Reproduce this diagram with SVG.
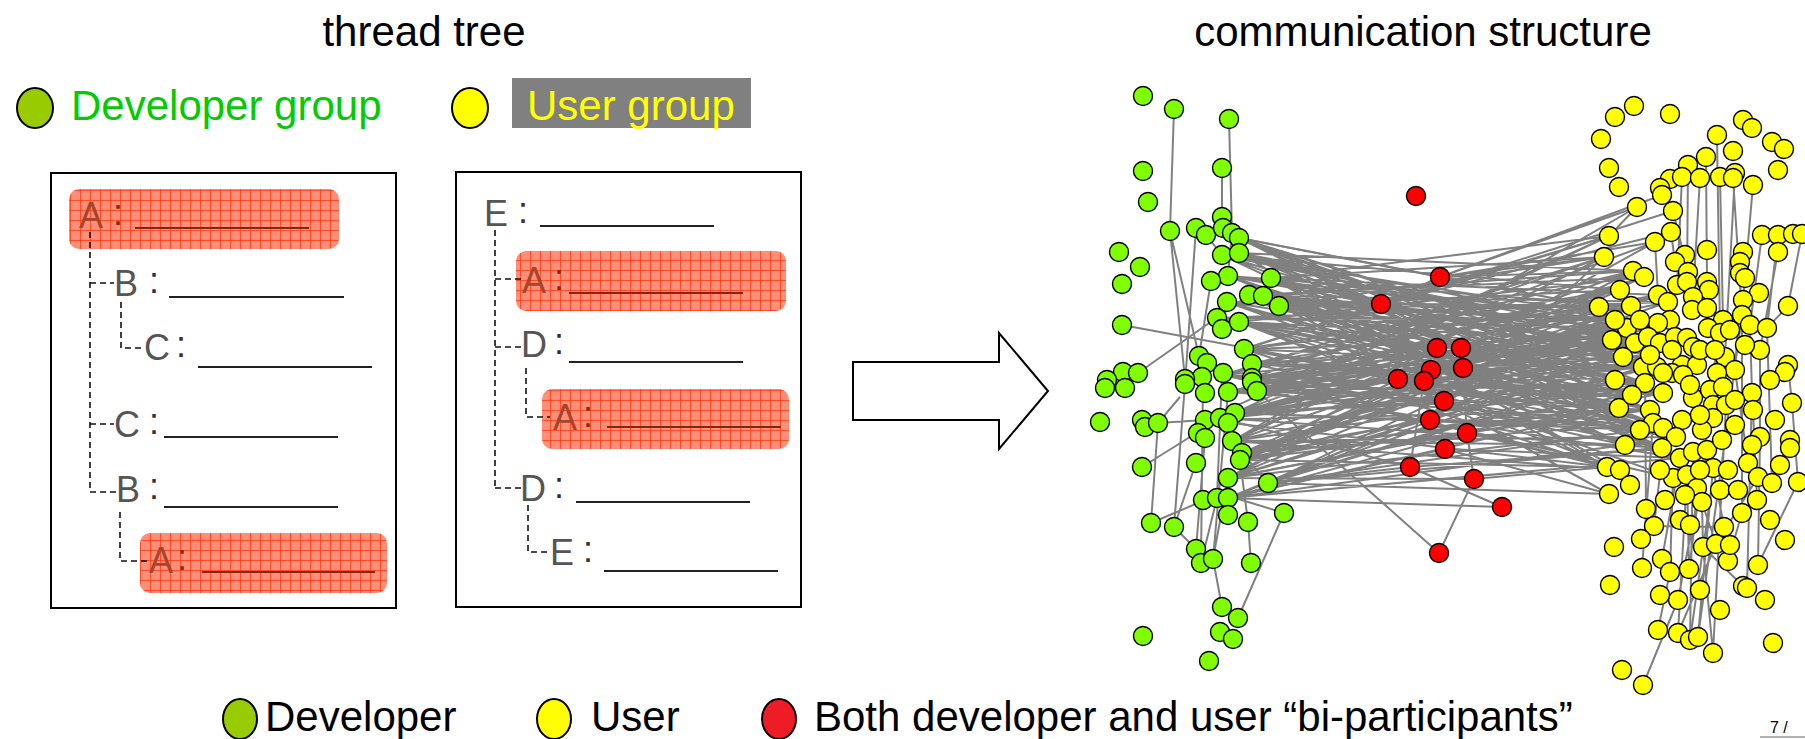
<svg xmlns="http://www.w3.org/2000/svg" width="1805" height="739" viewBox="0 0 1805 739">
  <style>
    text { font-family: "Liberation Sans", Arial, sans-serif; }
    .title { font-size: 42px; fill: #000; text-anchor: middle; }
    .leg { font-size: 42px; fill: #000; }
    .msg { font-size: 36px; fill: #555555; }
    .col { font-size: 36px; fill: #333333; }
    .hot .msg { fill: #a8442c; }
    .hot .col { fill: #8a2a14; }
    .rule { stroke: #222; stroke-width: 2; fill: none; }
    .hot .rule { stroke: #8a2410; }
    .tie { stroke: #111; stroke-width: 1.6; fill: none; stroke-dasharray: 6 4; }
    .frame { fill: #fff; stroke: #000; stroke-width: 2; }
    .mark { fill: url(#grid); }
    .e { stroke: #808080; stroke-width: 2; fill: none; }
    .dev circle { fill: #80ff00; stroke: #000; stroke-width: 1.4; }
    .usr circle { fill: #ffff00; stroke: #000; stroke-width: 1.4; }
    .bi circle { fill: #ff0000; stroke: #000; stroke-width: 1.4; }
    .key { stroke: #000; stroke-width: 2; }
  </style>
  <defs>
    <pattern id="grid" width="10" height="10" patternUnits="userSpaceOnUse">
      <rect width="10" height="10" fill="#ff8f78"/>
      <path d="M0 0.5H10M0.5 0V10" stroke="#ff3c14" stroke-width="1" stroke-opacity="0.8"/>
    </pattern>
  </defs>

  <rect width="1805" height="739" fill="#fff"/>

  <!-- headings -->
  <text id="title-thread" class="title" x="424" y="46">thread tree</text>
  <text id="title-comm" class="title" x="1423" y="46">communication structure</text>

  <!-- group legend -->
  <g id="legend-dev-group">
    <ellipse class="key" cx="35" cy="108" rx="18" ry="20" fill="#99cc00"/>
    <text x="71" y="120" style="font-size:42px;fill:#00cc00">Developer group</text>
  </g>
  <g id="legend-user-group">
    <ellipse class="key" cx="470" cy="108" rx="18" ry="20" fill="#ffff00"/>
    <rect x="512" y="78" width="239" height="50" fill="#808080"/>
    <text x="527" y="120" style="font-size:42px;fill:#ffff00">User group</text>
  </g>

  <!-- thread 1 -->
  <g id="thread-1">
    <rect class="frame" x="51" y="173" width="345" height="435"/>
    <rect class="mark" x="69" y="189" width="270" height="60" rx="10"/>
    <rect class="mark" x="140" y="533" width="247" height="60" rx="10"/>
    <path class="tie" d="M90 232V492M90 283H114M90 424H114M90 492H116M121 302V348H144M120 512V561H147"/>
    <g class="hot"><text class="msg" x="79" y="228">A</text><text class="col" x="113" y="225">:</text><path class="rule" d="M135 228H309"/></g>
    <text class="msg" x="114" y="296">B</text><text class="col" x="149" y="293">:</text><path class="rule" d="M169 297H344"/>
    <text class="msg" x="144" y="360">C</text><text class="col" x="176" y="357">:</text><path class="rule" d="M198 367H372"/>
    <text class="msg" x="114" y="437">C</text><text class="col" x="149" y="434">:</text><path class="rule" d="M164 437H338"/>
    <text class="msg" x="116" y="502">B</text><text class="col" x="149" y="499">:</text><path class="rule" d="M164 507H338"/>
    <g class="hot"><text class="msg" x="149" y="573">A</text><text class="col" x="177" y="570">:</text><path class="rule" d="M202 572H375"/></g>
  </g>

  <!-- thread 2 -->
  <g id="thread-2">
    <rect class="frame" x="456" y="172" width="345" height="435"/>
    <rect class="mark" x="516" y="251" width="270" height="60" rx="10"/>
    <rect class="mark" x="542" y="389" width="247" height="60" rx="10"/>
    <path class="tie" d="M495 230V488M495 279H522M495 347H522M495 488H522M526 368V417H550M528 505V552H550"/>
    <text class="msg" x="484" y="226">E</text><text class="col" x="518" y="223">:</text><path class="rule" d="M540 226H714"/>
    <g class="hot"><text class="msg" x="522" y="293">A</text><text class="col" x="554" y="290">:</text><path class="rule" d="M569 293H743"/></g>
    <text class="msg" x="521" y="357">D</text><text class="col" x="554" y="354">:</text><path class="rule" d="M569 362H743"/>
    <g class="hot"><text class="msg" x="553" y="430">A</text><text class="col" x="583" y="427">:</text><path class="rule" d="M607 427H781"/></g>
    <text class="msg" x="520" y="501">D</text><text class="col" x="554" y="498">:</text><path class="rule" d="M576 502H750"/>
    <text class="msg" x="550" y="565">E</text><text class="col" x="583" y="562">:</text><path class="rule" d="M604 571H778"/>
  </g>

  <!-- block arrow -->
  <g id="arrow">
    <polygon points="853,362 999,362 999,333 1048,391 999,449 999,420 853,420" fill="#fff" stroke="#000" stroke-width="2"/>
  </g>

  <!-- network connectors -->
  <g id="connectors">
    <path class="e" d="M1239 238L1599 307M1239 238L1623 357M1239 238L1645 383M1239 238L1650 410M1239 238L1662 448M1239 238L1643 367
M1239 253L1627 328M1239 253L1657 367M1239 253L1619 408M1239 253L1663 428M1239 253L1607 467M1239 253L1633 271
M1222 255L1635 343M1222 255L1663 393M1222 255L1653 423M1222 255L1648 337M1222 255L1658 323
M1228 276L1631 306M1228 276L1660 343M1228 276L1650 410M1228 276L1676 437M1228 276L1680 458
M1271 278L1609 236M1271 278L1604 257M1271 278L1623 357M1271 278L1643 367M1271 278L1619 408M1271 278L1658 295
M1249 295L1644 277M1249 295L1648 337M1249 295L1645 383M1249 295L1653 423M1249 295L1662 448M1249 295L1609 494
M1263 296L1633 271M1263 296L1627 328M1263 296L1657 367M1263 296L1663 428M1263 296L1668 302
M1279 306L1604 257M1279 306L1599 307M1279 306L1635 343M1279 306L1663 393M1279 306L1607 467
M1227 302L1631 306M1227 302L1643 367M1227 302L1619 408M1227 302L1676 437M1227 302L1658 323
M1239 322L1644 277M1239 322L1623 357M1239 322L1660 343M1239 322L1650 410M1239 322L1680 458M1239 322L1673 478
M1217 318L1627 328M1217 318L1645 383M1217 318L1653 423M1217 318L1668 302
M1244 349L1609 236M1244 349L1599 307M1244 349L1648 337M1244 349L1657 367M1244 349L1663 428M1244 349L1607 467
M1252 364L1633 271M1252 364L1635 343M1252 364L1643 367M1252 364L1663 393M1252 364L1662 448M1252 364L1658 295
M1252 378L1604 257M1252 378L1631 306M1252 378L1660 343M1252 378L1619 408M1252 378L1676 437M1252 378L1658 323
M1257 391L1644 277M1257 391L1623 357M1257 391L1645 383M1257 391L1650 410M1257 391L1680 458M1257 391L1655 242
M1228 392L1599 307M1228 392L1648 337M1228 392L1657 367M1228 392L1653 423M1228 392L1668 302
M1235 413L1609 236M1235 413L1627 328M1235 413L1643 367M1235 413L1663 393M1235 413L1663 428M1235 413L1658 295
M1220 418L1633 271M1220 418L1635 343M1220 418L1660 343M1220 418L1662 448M1220 418L1658 323
M1232 441L1604 257M1232 441L1631 306M1232 441L1623 357M1232 441L1645 383M1232 441L1676 437M1232 441L1637 207
M1242 453L1644 277M1242 453L1648 337M1242 453L1619 408M1242 453L1653 423M1242 453L1668 302
M1240 460L1599 307M1240 460L1627 328M1240 460L1657 367M1240 460L1650 410M1240 460L1607 467M1240 460L1658 295
M1228 478L1633 271M1228 478L1660 343M1228 478L1663 393M1228 478L1663 428M1228 478L1655 242
M1268 483L1631 306M1268 483L1623 357M1268 483L1643 367M1268 483L1662 448M1268 483L1609 494
M1228 498L1635 343M1228 498L1645 383M1228 498L1619 408M1228 498L1680 458M1228 498L1658 323
M1223 375L1604 257M1223 375L1648 337M1223 375L1663 393M1223 375L1676 437M1223 375L1673 478
M1205 420L1609 236M1205 420L1660 343M1205 420L1650 410M1205 420L1607 467
M1240 460L1607 467M1268 483L1609 494
M1239 238L1615 380M1239 238L1640 430M1239 253L1612 340M1239 253L1632 395
M1222 255L1620 290M1222 255L1625 445M1228 276L1615 320M1228 276L1650 355
M1271 278L1640 320M1271 278L1620 470M1249 295L1612 340M1249 295L1632 395
M1263 296L1615 380M1263 296L1640 430M1279 306L1620 290M1279 306L1650 355
M1227 302L1625 445M1227 302L1640 320M1239 322L1612 340M1239 322L1620 470
M1217 318L1632 395M1217 318L1615 320M1244 349L1640 430M1244 349L1620 290
M1252 364L1615 380M1252 364L1625 445M1252 378L1650 355M1252 378L1620 470
M1257 391L1640 320M1257 391L1612 340M1228 392L1632 395M1228 392L1620 290
M1235 413L1615 320M1235 413L1640 430M1220 418L1650 355M1220 418L1615 380
M1232 441L1625 445M1232 441L1620 470M1242 453L1612 340M1242 453L1640 320
M1240 460L1632 395M1240 460L1620 290M1228 478L1615 320M1228 478L1650 355
M1268 483L1615 380M1268 483L1640 430M1228 498L1612 340M1228 498L1625 445
M1223 375L1620 290M1223 375L1632 395M1205 420L1615 380M1205 420L1640 320"/>
    <!-- links of the bi-participants -->
    <path class="e" d="M1381 304L1239 238M1381 304L1239 253M1381 304L1263 296M1381 304L1244 349M1381 304L1440 277M1381 304L1609 236M1381 304L1599 307M1381 304L1650 410M1381 304L1461 348M1381 304L1673 211M1381 304L1671 232
M1440 277L1637 207M1440 277L1655 242M1440 277L1633 271M1440 277L1239 238M1440 277L1604 257M1440 277L1662 195
M1437 348L1239 322M1437 348L1252 364M1437 348L1660 343M1437 348L1627 328M1437 348L1444 401M1437 348L1232 441
M1461 348L1249 295M1461 348L1257 391M1461 348L1644 277M1461 348L1645 383M1461 348L1623 357M1461 348L1467 433
M1431 370L1252 378M1431 370L1657 367M1431 370L1619 408M1431 370L1445 449
M1463 368L1279 306M1463 368L1648 337M1463 368L1662 448M1463 368L1430 420
M1398 379L1228 392M1398 379L1240 460M1398 379L1663 393M1398 379L1635 343
M1424 381L1244 349M1424 381L1643 367M1424 381L1663 428M1424 381L1410 467
M1444 401L1235 413M1444 401L1676 437M1444 401L1631 306
M1430 420L1242 453M1430 420L1653 423M1430 420L1604 257
M1467 433L1228 478M1467 433L1607 467M1467 433L1619 408M1467 433L1474 479
M1445 449L1228 498M1445 449L1680 458M1445 449L1609 494
M1410 467L1268 483M1410 467L1662 448M1410 467L1220 418
M1474 479L1228 478M1474 479L1607 467M1474 479L1439 553
M1502 507L1228 498M1502 507L1410 467
M1439 553L1257 391M1439 553L1474 479
M1122 325L1424 381M1138 373L1249 295"/>
    <!-- developer side links -->
    <path class="e" d="M1174 109L1170 231M1229 119L1232 233M1222 168L1222 217M1170 231L1185 379M1170 231L1199 356M1196 228L1185 384M1206 235L1222 255
M1105 388L1123 372M1158 423L1180 397M1158 423L1205 420M1142 467L1190 437M1151 523L1158 423M1151 523L1205 500M1174 527L1196 463M1174 527L1196 549
M1196 549L1205 438M1201 563L1217 498M1213 559L1222 607M1213 559L1228 478M1251 563L1248 522M1248 522L1240 460M1238 618L1284 513M1284 513L1232 497
M1185 384L1174 527M1203 379L1201 563M1228 392L1213 559M1222 375L1217 498M1268 483L1242 453M1211 281L1199 356M1232 233L1228 276"/>
    <!-- user side links -->
    <path class="e" d="M1717 135L1720 333M1706 157L1707 282M1700 178L1693 297M1720 177L1723 320M1735 173L1725 357M1753 185L1743 300M1688 165L1687 282M1682 177L1677 285
M1733 178L1742 315M1802 234L1788 306M1778 252L1760 350M1762 235L1750 325M1743 252L1735 370M1778 235L1767 328M1671 232L1675 262M1673 211L1688 272M1655 242L1658 295
M1750 325L1752 393M1760 350L1760 437M1788 365L1792 403M1788 306L1767 328M1798 482L1758 565M1792 403L1798 482M1735 370L1748 463M1725 357L1726 405M1720 333L1713 418
M1723 320L1702 430M1742 315L1742 513M1767 328L1772 483M1753 410L1757 500M1752 393L1747 588M1760 437L1758 565M1713 468L1724 527M1702 502L1703 547M1697 488L1716 544
M1687 475L1689 569M1673 478L1670 572M1663 448L1654 526M1654 526L1724 527M1703 547L1743 586M1658 630L1670 572M1643 685L1678 600M1678 600L1707 450M1678 633L1716 544
M1690 640L1710 500M1698 637L1713 468M1713 653L1703 547M1713 653L1726 405M1690 640L1693 452M1698 637L1742 315M1678 633L1687 475M1646 509L1645 383M1641 539L1654 526
M1662 559L1680 458M1642 568L1653 423M1728 561L1742 513M1716 544L1758 477M1689 569L1720 333M1609 236L1637 207"/>
  </g>

  <!-- developers -->
  <g id="developers" class="dev">
    <circle cx="1143" cy="96" r="9.5"/><circle cx="1174" cy="109" r="9.5"/><circle cx="1229" cy="119" r="9.5"/>
    <circle cx="1143" cy="171" r="9.5"/><circle cx="1148" cy="202" r="9.5"/><circle cx="1222" cy="168" r="9.5"/>
    <circle cx="1222" cy="217" r="9.5"/><circle cx="1170" cy="231" r="9.5"/><circle cx="1196" cy="228" r="9.5"/>
    <circle cx="1206" cy="235" r="9.5"/><circle cx="1223" cy="228" r="9.5"/><circle cx="1232" cy="233" r="9.5"/>
    <circle cx="1239" cy="238" r="9.5"/><circle cx="1119" cy="252" r="9.5"/><circle cx="1140" cy="267" r="9.5"/>
    <circle cx="1122" cy="284" r="9.5"/><circle cx="1222" cy="255" r="9.5"/><circle cx="1239" cy="253" r="9.5"/>
    <circle cx="1228" cy="276" r="9.5"/><circle cx="1211" cy="281" r="9.5"/><circle cx="1271" cy="278" r="9.5"/>
    <circle cx="1249" cy="295" r="9.5"/><circle cx="1263" cy="296" r="9.5"/><circle cx="1279" cy="306" r="9.5"/>
    <circle cx="1227" cy="302" r="9.5"/><circle cx="1217" cy="318" r="9.5"/><circle cx="1222" cy="329" r="9.5"/>
    <circle cx="1239" cy="322" r="9.5"/><circle cx="1122" cy="325" r="9.5"/><circle cx="1244" cy="349" r="9.5"/>
    <circle cx="1199" cy="356" r="9.5"/><circle cx="1207" cy="363" r="9.5"/><circle cx="1252" cy="364" r="9.5"/>
    <circle cx="1123" cy="372" r="9.5"/><circle cx="1138" cy="373" r="9.5"/><circle cx="1223" cy="373" r="9.5"/>
    <circle cx="1202" cy="377" r="9.5"/><circle cx="1185" cy="379" r="9.5"/><circle cx="1107" cy="380" r="9.5"/>
    <circle cx="1252" cy="378" r="9.5"/><circle cx="1105" cy="388" r="9.5"/><circle cx="1125" cy="388" r="9.5"/>
    <circle cx="1185" cy="384" r="9.5"/><circle cx="1205" cy="393" r="9.5"/><circle cx="1228" cy="392" r="9.5"/>
    <circle cx="1252" cy="382" r="9.5"/><circle cx="1257" cy="391" r="9.5"/><circle cx="1100" cy="422" r="9.5"/>
    <circle cx="1142" cy="420" r="9.5"/><circle cx="1145" cy="427" r="9.5"/><circle cx="1158" cy="423" r="9.5"/>
    <circle cx="1205" cy="420" r="9.5"/><circle cx="1220" cy="418" r="9.5"/><circle cx="1235" cy="413" r="9.5"/>
    <circle cx="1228" cy="423" r="9.5"/><circle cx="1198" cy="433" r="9.5"/><circle cx="1205" cy="438" r="9.5"/>
    <circle cx="1232" cy="441" r="9.5"/><circle cx="1242" cy="453" r="9.5"/><circle cx="1240" cy="460" r="9.5"/>
    <circle cx="1142" cy="467" r="9.5"/><circle cx="1196" cy="463" r="9.5"/><circle cx="1228" cy="478" r="9.5"/>
    <circle cx="1268" cy="483" r="9.5"/><circle cx="1203" cy="500" r="9.5"/><circle cx="1217" cy="498" r="9.5"/>
    <circle cx="1228" cy="498" r="9.5"/><circle cx="1284" cy="513" r="9.5"/><circle cx="1151" cy="523" r="9.5"/>
    <circle cx="1174" cy="527" r="9.5"/><circle cx="1228" cy="515" r="9.5"/><circle cx="1248" cy="522" r="9.5"/>
    <circle cx="1196" cy="549" r="9.5"/><circle cx="1201" cy="563" r="9.5"/><circle cx="1213" cy="559" r="9.5"/>
    <circle cx="1251" cy="563" r="9.5"/><circle cx="1222" cy="607" r="9.5"/><circle cx="1238" cy="618" r="9.5"/>
    <circle cx="1220" cy="632" r="9.5"/><circle cx="1233" cy="639" r="9.5"/><circle cx="1143" cy="636" r="9.5"/>
    <circle cx="1209" cy="661" r="9.5"/>
  </g>

  <!-- users -->
  <g id="users" class="usr">
    <circle cx="1615" cy="117" r="9.5"/><circle cx="1634" cy="106" r="9.5"/><circle cx="1670" cy="114" r="9.5"/>
    <circle cx="1601" cy="139" r="9.5"/><circle cx="1609" cy="168" r="9.5"/><circle cx="1619" cy="187" r="9.5"/>
    <circle cx="1743" cy="120" r="9.5"/><circle cx="1752" cy="128" r="9.5"/><circle cx="1772" cy="142" r="9.5"/>
    <circle cx="1784" cy="149" r="9.5"/><circle cx="1778" cy="170" r="9.5"/><circle cx="1717" cy="135" r="9.5"/>
    <circle cx="1733" cy="151" r="9.5"/><circle cx="1706" cy="157" r="9.5"/><circle cx="1688" cy="165" r="9.5"/>
    <circle cx="1670" cy="179" r="9.5"/><circle cx="1682" cy="177" r="9.5"/><circle cx="1700" cy="178" r="9.5"/>
    <circle cx="1720" cy="177" r="9.5"/><circle cx="1735" cy="173" r="9.5"/><circle cx="1733" cy="178" r="9.5"/>
    <circle cx="1753" cy="185" r="9.5"/><circle cx="1660" cy="188" r="9.5"/><circle cx="1662" cy="195" r="9.5"/>
    <circle cx="1637" cy="207" r="9.5"/><circle cx="1673" cy="211" r="9.5"/><circle cx="1671" cy="232" r="9.5"/>
    <circle cx="1609" cy="236" r="9.5"/><circle cx="1655" cy="242" r="9.5"/><circle cx="1604" cy="257" r="9.5"/>
    <circle cx="1762" cy="235" r="9.5"/><circle cx="1778" cy="235" r="9.5"/><circle cx="1793" cy="234" r="9.5"/>
    <circle cx="1802" cy="234" r="9.5"/><circle cx="1778" cy="252" r="9.5"/><circle cx="1743" cy="252" r="9.5"/>
    <circle cx="1740" cy="262" r="9.5"/><circle cx="1740" cy="273" r="9.5"/><circle cx="1745" cy="278" r="9.5"/>
    <circle cx="1707" cy="250" r="9.5"/><circle cx="1685" cy="255" r="9.5"/><circle cx="1675" cy="262" r="9.5"/>
    <circle cx="1688" cy="272" r="9.5"/><circle cx="1633" cy="271" r="9.5"/><circle cx="1644" cy="277" r="9.5"/>
    <circle cx="1707" cy="282" r="9.5"/><circle cx="1709" cy="290" r="9.5"/><circle cx="1658" cy="295" r="9.5"/>
    <circle cx="1677" cy="285" r="9.5"/><circle cx="1687" cy="282" r="9.5"/><circle cx="1693" cy="297" r="9.5"/>
    <circle cx="1668" cy="302" r="9.5"/><circle cx="1599" cy="307" r="9.5"/><circle cx="1631" cy="306" r="9.5"/>
    <circle cx="1759" cy="293" r="9.5"/><circle cx="1743" cy="300" r="9.5"/><circle cx="1742" cy="315" r="9.5"/>
    <circle cx="1788" cy="306" r="9.5"/><circle cx="1692" cy="310" r="9.5"/><circle cx="1707" cy="308" r="9.5"/>
    <circle cx="1670" cy="320" r="9.5"/><circle cx="1658" cy="323" r="9.5"/><circle cx="1723" cy="320" r="9.5"/>
    <circle cx="1708" cy="328" r="9.5"/><circle cx="1720" cy="333" r="9.5"/><circle cx="1627" cy="328" r="9.5"/>
    <circle cx="1635" cy="343" r="9.5"/><circle cx="1623" cy="357" r="9.5"/><circle cx="1648" cy="337" r="9.5"/>
    <circle cx="1660" cy="343" r="9.5"/><circle cx="1675" cy="337" r="9.5"/><circle cx="1687" cy="338" r="9.5"/>
    <circle cx="1693" cy="347" r="9.5"/><circle cx="1750" cy="325" r="9.5"/><circle cx="1767" cy="328" r="9.5"/>
    <circle cx="1760" cy="350" r="9.5"/><circle cx="1725" cy="357" r="9.5"/><circle cx="1735" cy="370" r="9.5"/>
    <circle cx="1788" cy="365" r="9.5"/><circle cx="1785" cy="372" r="9.5"/><circle cx="1643" cy="367" r="9.5"/>
    <circle cx="1657" cy="367" r="9.5"/><circle cx="1682" cy="365" r="9.5"/><circle cx="1697" cy="365" r="9.5"/>
    <circle cx="1672" cy="373" r="9.5"/><circle cx="1717" cy="373" r="9.5"/><circle cx="1619" cy="408" r="9.5"/>
    <circle cx="1645" cy="383" r="9.5"/><circle cx="1663" cy="393" r="9.5"/><circle cx="1663" cy="373" r="9.5"/>
    <circle cx="1683" cy="375" r="9.5"/><circle cx="1693" cy="398" r="9.5"/><circle cx="1710" cy="390" r="9.5"/>
    <circle cx="1723" cy="387" r="9.5"/><circle cx="1713" cy="405" r="9.5"/><circle cx="1726" cy="405" r="9.5"/>
    <circle cx="1713" cy="418" r="9.5"/><circle cx="1752" cy="393" r="9.5"/><circle cx="1753" cy="410" r="9.5"/>
    <circle cx="1792" cy="403" r="9.5"/><circle cx="1650" cy="410" r="9.5"/><circle cx="1653" cy="423" r="9.5"/>
    <circle cx="1663" cy="428" r="9.5"/><circle cx="1682" cy="420" r="9.5"/><circle cx="1676" cy="437" r="9.5"/>
    <circle cx="1702" cy="430" r="9.5"/><circle cx="1662" cy="448" r="9.5"/><circle cx="1680" cy="458" r="9.5"/>
    <circle cx="1693" cy="452" r="9.5"/><circle cx="1707" cy="450" r="9.5"/><circle cx="1713" cy="468" r="9.5"/>
    <circle cx="1673" cy="478" r="9.5"/><circle cx="1687" cy="475" r="9.5"/><circle cx="1697" cy="488" r="9.5"/>
    <circle cx="1702" cy="502" r="9.5"/><circle cx="1760" cy="437" r="9.5"/><circle cx="1752" cy="445" r="9.5"/>
    <circle cx="1748" cy="463" r="9.5"/><circle cx="1758" cy="477" r="9.5"/><circle cx="1772" cy="483" r="9.5"/>
    <circle cx="1790" cy="440" r="9.5"/><circle cx="1790" cy="448" r="9.5"/><circle cx="1798" cy="482" r="9.5"/>
    <circle cx="1757" cy="500" r="9.5"/><circle cx="1742" cy="513" r="9.5"/><circle cx="1607" cy="467" r="9.5"/>
    <circle cx="1609" cy="494" r="9.5"/><circle cx="1646" cy="509" r="9.5"/><circle cx="1654" cy="526" r="9.5"/>
    <circle cx="1641" cy="539" r="9.5"/><circle cx="1614" cy="547" r="9.5"/><circle cx="1724" cy="527" r="9.5"/>
    <circle cx="1703" cy="547" r="9.5"/><circle cx="1716" cy="544" r="9.5"/><circle cx="1728" cy="561" r="9.5"/>
    <circle cx="1758" cy="565" r="9.5"/><circle cx="1662" cy="559" r="9.5"/><circle cx="1642" cy="568" r="9.5"/>
    <circle cx="1670" cy="572" r="9.5"/><circle cx="1689" cy="569" r="9.5"/><circle cx="1743" cy="586" r="9.5"/>
    <circle cx="1747" cy="588" r="9.5"/><circle cx="1610" cy="585" r="9.5"/><circle cx="1678" cy="600" r="9.5"/>
    <circle cx="1658" cy="630" r="9.5"/><circle cx="1678" cy="633" r="9.5"/><circle cx="1690" cy="640" r="9.5"/>
    <circle cx="1698" cy="637" r="9.5"/><circle cx="1713" cy="653" r="9.5"/><circle cx="1773" cy="643" r="9.5"/>
    <circle cx="1622" cy="670" r="9.5"/><circle cx="1643" cy="685" r="9.5"/>
    <!-- dense core of the user group -->
    <circle cx="1620" cy="290" r="9.5"/><circle cx="1615" cy="320" r="9.5"/><circle cx="1640" cy="320" r="9.5"/>
    <circle cx="1612" cy="340" r="9.5"/><circle cx="1650" cy="355" r="9.5"/><circle cx="1615" cy="380" r="9.5"/>
    <circle cx="1632" cy="395" r="9.5"/><circle cx="1640" cy="430" r="9.5"/><circle cx="1625" cy="445" r="9.5"/>
    <circle cx="1672" cy="350" r="9.5"/><circle cx="1690" cy="385" r="9.5"/><circle cx="1700" cy="415" r="9.5"/>
    <circle cx="1722" cy="440" r="9.5"/><circle cx="1735" cy="425" r="9.5"/><circle cx="1728" cy="470" r="9.5"/>
    <circle cx="1700" cy="470" r="9.5"/><circle cx="1665" cy="500" r="9.5"/><circle cx="1680" cy="520" r="9.5"/>
    <circle cx="1720" cy="490" r="9.5"/><circle cx="1738" cy="490" r="9.5"/><circle cx="1730" cy="545" r="9.5"/>
    <circle cx="1700" cy="590" r="9.5"/><circle cx="1720" cy="610" r="9.5"/><circle cx="1660" cy="595" r="9.5"/>
    <circle cx="1700" cy="350" r="9.5"/><circle cx="1715" cy="350" r="9.5"/><circle cx="1730" cy="330" r="9.5"/>
    <circle cx="1745" cy="345" r="9.5"/><circle cx="1770" cy="380" r="9.5"/><circle cx="1775" cy="420" r="9.5"/>
    <circle cx="1780" cy="465" r="9.5"/><circle cx="1770" cy="520" r="9.5"/><circle cx="1785" cy="540" r="9.5"/>
    <circle cx="1765" cy="600" r="9.5"/><circle cx="1690" cy="525" r="9.5"/><circle cx="1735" cy="400" r="9.5"/>
    <circle cx="1620" cy="470" r="9.5"/><circle cx="1630" cy="485" r="9.5"/><circle cx="1660" cy="470" r="9.5"/>
    <circle cx="1685" cy="495" r="9.5"/>
  </g>

  <!-- bi-participants -->
  <g id="bi-participants" class="bi">
    <circle cx="1416" cy="196" r="9.5"/><circle cx="1381" cy="304" r="9.5"/><circle cx="1440" cy="277" r="9.5"/>
    <circle cx="1437" cy="348" r="9.5"/><circle cx="1461" cy="348" r="9.5"/><circle cx="1431" cy="370" r="9.5"/>
    <circle cx="1463" cy="368" r="9.5"/><circle cx="1398" cy="379" r="9.5"/><circle cx="1424" cy="381" r="9.5"/>
    <circle cx="1444" cy="401" r="9.5"/><circle cx="1430" cy="420" r="9.5"/><circle cx="1467" cy="433" r="9.5"/>
    <circle cx="1445" cy="449" r="9.5"/><circle cx="1410" cy="467" r="9.5"/><circle cx="1474" cy="479" r="9.5"/>
    <circle cx="1502" cy="507" r="9.5"/><circle cx="1439" cy="553" r="9.5"/>
  </g>

  <!-- role legend -->
  <g id="legend-developer">
    <ellipse class="key" cx="240" cy="719" rx="17" ry="20" fill="#99cc00"/>
    <text class="leg" x="265" y="731">Developer</text>
  </g>
  <g id="legend-user">
    <ellipse class="key" cx="554" cy="719" rx="17" ry="20" fill="#ffff00"/>
    <text class="leg" x="591" y="731">User</text>
  </g>
  <g id="legend-both">
    <ellipse class="key" cx="779" cy="719" rx="17" ry="20" fill="#ee1c24"/>
    <text class="leg" x="814" y="731">Both developer and user “bi-participants”</text>
  </g>

  <!-- page number -->
  <g id="page">
    <text x="1770" y="733" style="font-size:16px;fill:#000">7 /</text>
    <path d="M1760 737H1805" stroke="#999" stroke-width="1.5"/>
  </g>
</svg>
